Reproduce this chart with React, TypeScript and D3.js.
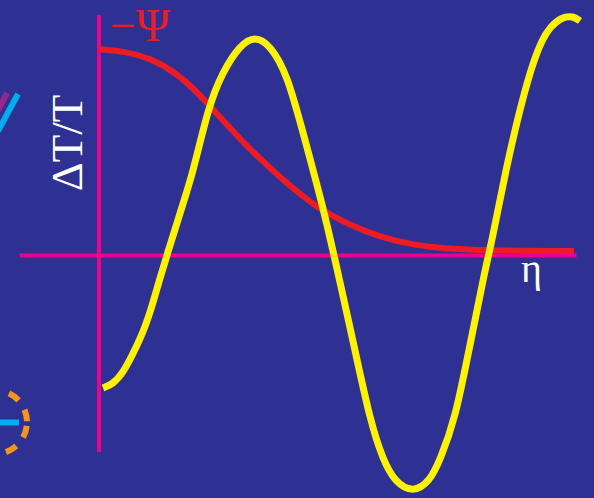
import React from "react";
import * as d3 from "d3";

// Conformal time η (0 = start of plot, 1 = right end of the axis)
const etaYellow = [0.0084, 0.0294, 0.0504, 0.0714, 0.0966, 0.1134, 0.1282, 0.1429, 0.1702, 0.1975, 0.229, 0.2584, 0.2962, 0.3277, 0.3592, 0.395, 0.4328, 0.4706, 0.4937, 0.5378, 0.5693, 0.5966, 0.6218, 0.6597, 0.6954, 0.7164, 0.7479, 0.7794, 0.8109, 0.8235, 0.8382, 0.855, 0.8739, 0.895, 0.9139, 0.9307, 0.9475, 0.9727, 0.9958, 1.0105];
// ΔT/T oscillation (acoustic wave)
const dtYellow = [-0.6625, -0.6425, -0.5875, -0.4925, -0.3625, -0.2375, -0.1125, 0.0025, 0.2125, 0.4125, 0.7375, 0.9125, 1.0525, 1.0975, 1.0525, 0.9125, 0.5775, 0.2425, 0.0025, -0.4725, -0.8225, -1.0225, -1.1325, -1.1875, -1.1275, -1.0225, -0.8225, -0.4475, -0.0725, 0.0525, 0.2275, 0.4275, 0.6275, 0.8275, 0.9775, 1.0775, 1.1425, 1.1925, 1.1975, 1.1725];

// −Ψ potential decay
const etaRed = [0, 0.0546, 0.1071, 0.1597, 0.2059, 0.2332, 0.3172, 0.3866, 0.458, 0.5273, 0.5903, 0.6597, 0.7374, 0.8004, 0.9979];
const psiRed = [1.0325, 1.02, 0.9875, 0.9175, 0.8175, 0.7475, 0.5275, 0.3775, 0.2375, 0.1525, 0.0925, 0.0525, 0.0325, 0.025, 0.0225];

const W = 594;
const H = 498;

const BG = "#2E3192";
const YELLOW = "#FFF200";
const RED = "#ED1C24";
const MAGENTA = "#EC008C";
const CYAN = "#00AEEF";
const ORANGE = "#F7941D";
const PURPLE = "#92278F";

export default function App() {
  const x = d3.scaleLinear().domain([0, 1]).range([99, 575]);
  const y = d3.scaleLinear().domain([0, 1]).range([255.5, 55.5]);

  const line = d3
    .line<[number, number]>()
    .x((d) => x(d[0]))
    .y((d) => y(d[1]))
    .curve(d3.curveBasis);

  const yellowPts = etaYellow.map((e, i) => [e, dtYellow[i]] as [number, number]);
  const redPts = etaRed.map((e, i) => [e, psiRed[i]] as [number, number]);

  const serif = "'Liberation Serif', 'DejaVu Serif', serif";

  return (
    <svg
      width={W}
      height={H}
      style={{ position: "absolute", left: 0, top: 0, display: "block" }}
    >
      <rect x={0} y={0} width={W} height={H} fill={BG} />

      {/* decorative fragments at the left edge */}
      <line x1={-8} y1={122} x2={7} y2={93} stroke={PURPLE} strokeWidth={6} />
      <line x1={-2} y1={131} x2={18} y2={94} stroke={CYAN} strokeWidth={6} />
      <circle
        cx={-5}
        cy={422}
        r={32}
        fill="none"
        stroke={ORANGE}
        strokeWidth={6}
        strokeDasharray="12 11"
        strokeDashoffset={-4}
      />
      <line x1={0} y1={422.5} x2={19} y2={422.5} stroke={CYAN} strokeWidth={6} />

      {/* axes */}
      <line x1={x(0)} y1={y(-0.983)} x2={x(0)} y2={y(1.203)} stroke={MAGENTA} strokeWidth={4} />
      <line x1={x(-0.166)} y1={y(0)} x2={x(1.003)} y2={y(0)} stroke={MAGENTA} strokeWidth={4} />

      {/* curves */}
      <path d={line(redPts) ?? ""} fill="none" stroke={RED} strokeWidth={6} />
      <path d={line(yellowPts) ?? ""} fill="none" stroke={YELLOW} strokeWidth={7} />

      {/* labels */}
      <text x={110} y={41} fill={RED} fontFamily={serif} fontSize={46}>
        −Ψ
      </text>
      <text
        transform="translate(82,143) rotate(-90)"
        textAnchor="middle"
        fill="#FFFFFF"
        fontFamily={serif}
        fontSize={45}
      >
        ΔT/T
      </text>
      <text x={521} y={282} fill="#FFFFFF" fontFamily={serif} fontSize={40}>
        η
      </text>
    </svg>
  );
}
